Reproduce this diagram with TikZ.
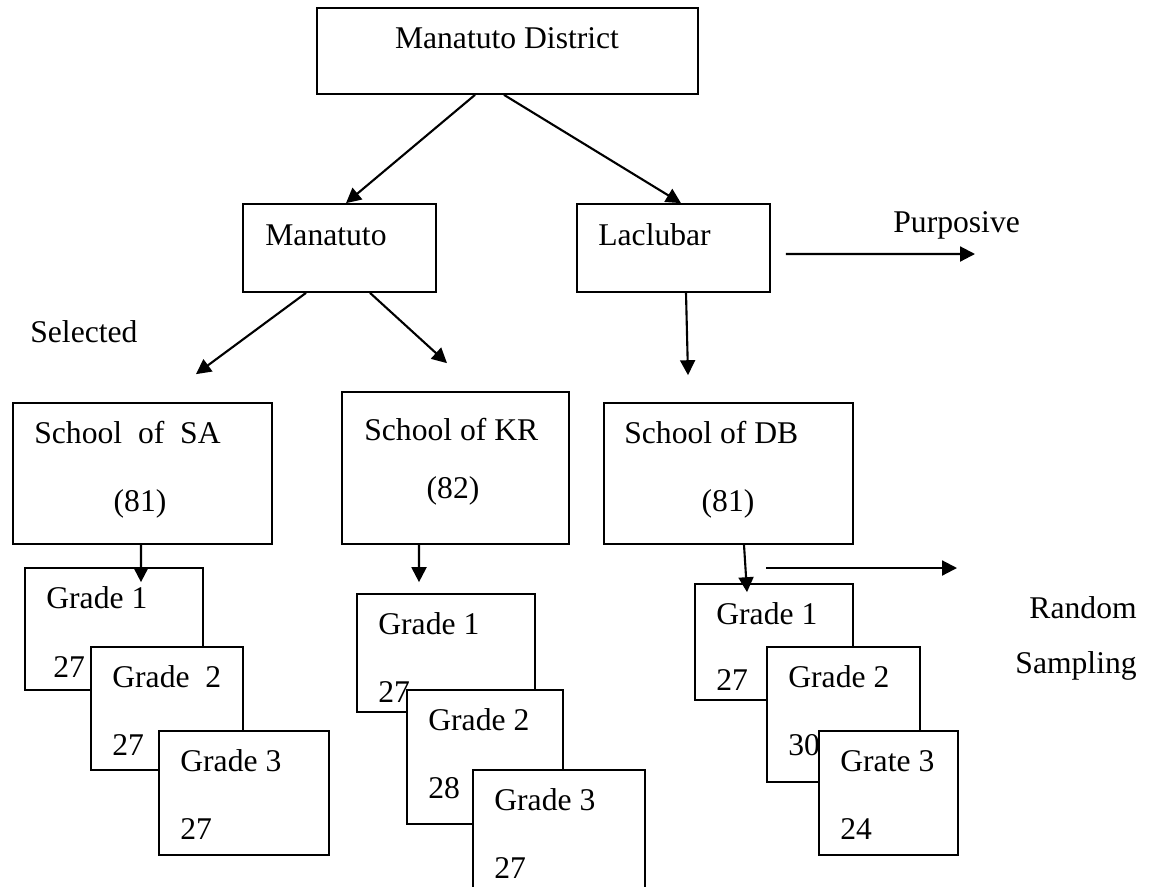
\documentclass[tikz,border=0pt]{standalone}
\usepackage{fontspec}
\setmainfont{Liberation Serif}
\usepackage{tikz}
\usetikzlibrary{arrows.meta}

\begin{document}
\begin{tikzpicture}[
    x=0.02cm, y=-0.02cm,
    every node/.style={font=\fontsize{18}{21}\selectfont},
    box/.style={rectangle, draw, line width=1pt, fill=white, inner sep=0pt},
    txt/.style={inner sep=0pt, anchor=base west},
    arrow/.style={-{Triangle[length=8.5pt, width=8.5pt]}, line width=1.2pt}
]
\useasboundingbox (0,0) rectangle (1155,886);
\clip (0,0) rectangle (1155,886);

\node[box, minimum width=7.62cm, minimum height=1.72cm] (dist) at (507.5,51) {};
\node[txt, anchor=base] (distLbl) at (507,48) {Manatuto District};
\node[box, minimum width=3.86cm, minimum height=1.76cm] (mana) at (339.5,248) {};
\node[txt] (manaLbl) at (265,245) {Manatuto};
\node[box, minimum width=3.86cm, minimum height=1.76cm] (lacl) at (673.5,248) {};
\node[txt] (laclLbl) at (598,245) {Laclubar};
\node[txt] (purpLbl) at (893,232) {Purposive};
\coordinate (purpEnd) at (975,254);
\node[txt] (selLbl) at (30,342) {Selected};

\node[box, minimum width=5.18cm, minimum height=2.82cm] (sa) at (142.5,473.5) {};
\node[txt] (saLbl) at (34,443) {School\ \ of\ \ SA};
\node[txt, anchor=base] (saNum) at (140,511) {(81)};
\node[box, minimum width=4.54cm, minimum height=3.04cm] (kr) at (455.5,468) {};
\node[txt] (krLbl) at (364,440) {School of KR};
\node[txt, anchor=base] (krNum) at (453,498) {(82)};
\node[box, minimum width=4.98cm, minimum height=2.82cm] (db) at (728.5,473.5) {};
\node[txt] (dbLbl) at (624,443) {School of DB};
\node[txt, anchor=base] (dbNum) at (728,511) {(81)};

\node[box, minimum width=3.56cm, minimum height=2.44cm] (sa1) at (114,629) {};
\node[txt] (sa1Lbl) at (46,608) {Grade 1};
\node[txt] (sa1Num) at (53,677) {27};
\node[box, minimum width=3.04cm, minimum height=2.46cm] (sa2) at (167,708.5) {};
\node[txt] (sa2Lbl) at (112,687) {Grade\ \ 2};
\node[txt] (sa2Num) at (112,755) {27};
\node[box, minimum width=3.40cm, minimum height=2.48cm] (sa3) at (244,793) {};
\node[txt] (sa3Lbl) at (180,771) {Grade 3};
\node[txt] (sa3Num) at (180,839) {27};

\node[box, minimum width=3.56cm, minimum height=2.36cm] (kr1) at (446,653) {};
\node[txt] (kr1Lbl) at (378,634) {Grade 1};
\node[txt] (kr1Num) at (378,702) {27};
\node[box, minimum width=3.12cm, minimum height=2.68cm] (kr2) at (485,757) {};
\node[txt] (kr2Lbl) at (428,730) {Grade 2};
\node[txt] (kr2Num) at (428,798) {28};
\node[box, minimum width=3.44cm, minimum height=2.60cm] (kr3) at (559,835) {};
\node[txt] (kr3Lbl) at (494,810) {Grade 3};
\node[txt] (kr3Num) at (494,878) {27};

\node[box, minimum width=3.16cm, minimum height=2.32cm] (db1) at (774,642) {};
\node[txt] (db1Lbl) at (716,624) {Grade 1};
\node[txt] (db1Num) at (716,690) {27};
\node[box, minimum width=3.06cm, minimum height=2.70cm] (db2) at (843.5,714.5) {};
\node[txt] (db2Lbl) at (788,687) {Grade 2};
\node[txt] (db2Num) at (788,755) {30};
\node[box, minimum width=2.78cm, minimum height=2.48cm] (db3) at (888.5,793) {};
\node[txt] (db3Lbl) at (840,771) {Grate 3};
\node[txt] (db3Num) at (840,839) {24};

\coordinate (randStart) at (766,568);
\coordinate (randEnd) at (957,568);
\node[txt, anchor=base east] (randLbl) at (1137,618) {Random};
\node[txt, anchor=base east] (sampLbl) at (1137,673) {Sampling};

\draw[arrow] ([xshift=-0.65cm]dist.south) -- ([xshift=0.13cm]mana.north);
\draw[arrow] ([xshift=-0.07cm]dist.south) -- ([xshift=0.15cm]lacl.north);
\draw[arrow] ([shift={(0.3cm,-0.12cm)}]lacl.east) -- (purpEnd);
\draw[arrow] ([xshift=-0.67cm]mana.south) -- ([shift={(1.07cm,0.56cm)}]sa.north);
\draw[arrow] ([xshift=0.61cm]mana.south) -- ([shift={(-0.17cm,0.56cm)}]kr.north);
\draw[arrow] ([xshift=0.25cm]lacl.south) -- ([shift={(-0.81cm,0.54cm)}]db.north);
\draw[arrow] ([xshift=-0.03cm]sa.south) -- ([shift={(0.54cm,-0.3cm)}]sa1.north);
\draw[arrow] ([xshift=-0.73cm]kr.south) -- ([shift={(-0.54cm,0.22cm)}]kr1.north);
\draw[arrow] ([xshift=0.31cm]db.south) -- ([shift={(-0.54cm,-0.18cm)}]db1.north);
\draw[arrow] (randStart) -- (randEnd);
\end{tikzpicture}
\end{document}
